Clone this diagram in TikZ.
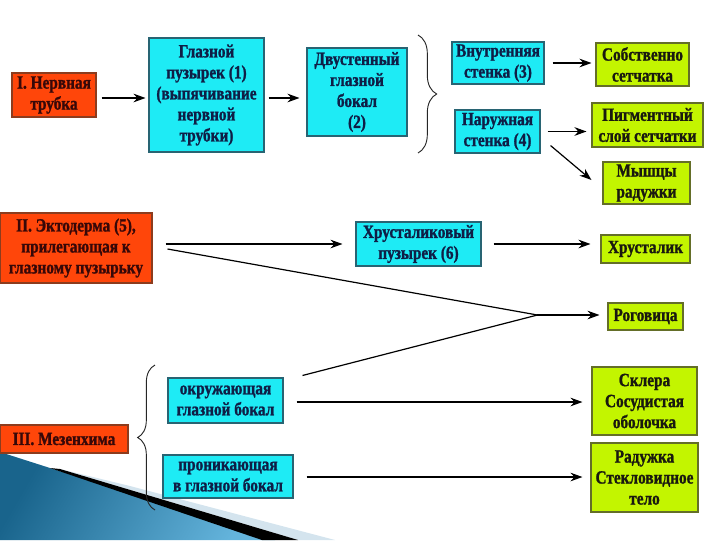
\documentclass[tikz,border=0pt]{standalone}
\usepackage{fontspec}
\setmainfont{Liberation Serif}[BoldFont={Liberation Serif Bold}, FakeStretch=0.82, BoldFeatures={FakeBold=1.2}]
\usetikzlibrary{arrows.meta,calc,decorations.pathreplacing}
\definecolor{cyanfill}{RGB}{30,235,245}
\definecolor{cyanline}{RGB}{40,100,115}
\definecolor{cyantext}{RGB}{15,30,70}
\definecolor{greenfill}{RGB}{195,245,0}
\definecolor{greenline}{RGB}{100,110,40}
\definecolor{greentext}{RGB}{25,25,15}
\definecolor{orangefill}{RGB}{255,70,10}
\definecolor{orangeline}{RGB}{140,60,30}
\definecolor{orangetext}{RGB}{55,8,8}
\definecolor{bluedark}{RGB}{25,100,140}
\definecolor{bluelight}{RGB}{100,180,220}
\definecolor{paleband}{RGB}{212,228,238}
\def\px{0.75pt}
\tikzset{
  box/.style={draw, line width=0.8pt, align=center, inner sep=1pt,
    font=\fontsize{14}{15.75}\selectfont\bfseries},
  cbox/.style={box, fill=cyanfill, draw=cyanline, text=cyantext},
  gbox/.style={box, fill=greenfill, draw=greenline, text=greentext},
  obox/.style={box, fill=orangefill, draw=orangeline, text=orangetext},
  sz/.style 2 args={minimum width={#1*\px}, minimum height={#2*\px}},
  arr/.style={line width=0.9pt, -{Stealth[length=9pt,width=6.5pt]}},
  ln/.style={line width=0.9pt},
  brc/.style={decorate, decoration={brace, amplitude=#1}, line width=0.7pt, draw=black!85}
}
\begin{document}
\begin{tikzpicture}[x=0.75pt,y=-0.75pt]
\useasboundingbox (0,0) rectangle (720,540);
% background decoration
\fill[paleband] (130,486) -- (335,540) -- (298,540) -- (60,469) -- cycle;
\shade[left color=bluedark, right color=bluelight, shading angle=60] (0,452) -- (275,540) -- (0,540) -- cycle;
\fill[black] (60,469) -- (298,540) -- (262,540) -- (50,468) -- cycle;
% nodes
\node[obox, sz={84}{44}] (n1) at (54,95) {I. Нервная\\трубка};
\node[cbox, sz={115}{114}] (eye1) at (206.5,95) {Глазной\\пузырек (1)\\(выпячивание\\нервной\\трубки)};
\node[cbox, sz={100}{88}] (cup) at (357,92) {Двустенный\\глазной\\бокал\\(2)};
\node[cbox, sz={92}{42}] (inner) at (498,63) {Внутренняя\\стенка (3)};
\node[cbox, sz={85}{43}] (outer) at (497.5,131.5) {Наружная\\стенка (4)};
\node[gbox, sz={93}{43}] (retina) at (642.5,64.5) {Собственно\\сетчатка};
\node[gbox, sz={111}{44}] (pigment) at (647.5,125) {Пигментный\\слой сетчатки};
\node[gbox, sz={87}{42}] (muscle) at (646.5,183) {Мышцы\\радужки};
\node[obox, sz={152}{70}] (ecto) at (76,248) {II. Эктодерма (5),\\прилегающая к\\глазному пузырьку};
\node[cbox, sz={125}{44}] (lensves) at (418.5,244) {Хрусталиковый\\пузырек (6)};
\node[gbox, sz={89}{28}] (lens) at (645.5,249) {Хрусталик};
\node[gbox, sz={75}{27}] (cornea) at (645.5,316.5) {Роговица};
\node[obox, sz={128}{28}] (mes) at (64,439) {III. Мезенхима};
\node[cbox, sz={115}{45}] (surr) at (225.5,400.5) {окружающая\\глазной бокал};
\node[cbox, sz={130}{43}] (pen) at (228,476.5) {проникающая\\в глазной бокал};
\node[gbox, sz={105}{68}] (sclera) at (644.5,401) {Склера\\Сосудистая\\оболочка};
\node[gbox, sz={107}{69}] (iris) at (644.5,477.5) {Радужка\\Стекловидное\\тело};
% braces
\draw[brc=14pt] (418,35) -- (418,153);
\draw[brc=13pt] (155,510) -- (155,365);
% connectors
\draw[arr] ($(n1.east)+(5,3)$) -- ($(n1.east -| eye1.west)+(-3,3)$);
\draw[arr] ($(eye1.east)+(4,3)$) -- ($(eye1.east -| cup.west)+(-7,3)$);
\draw[arr] ($(inner.east)+(8,0)$) -- ($(inner.east -| retina.west)+(-4,0)$);
\draw[arr] ($(outer.east)+(7,0)$) -- ($(outer.east -| pigment.west)+(-5,0)$);
\draw[arr] ($(outer.south east)+(10,-8)$) -- ($(muscle.west)+(-11,-3)$);
\draw[arr] ($(ecto.east |- lensves.west)+(13,0)$) -- ($(lensves.west)+(-13,0)$);
\draw[arr] ($(lensves.east)+(12,0)$) -- ($(lensves.east -| lens.west)+(-10,0)$);
\coordinate (J) at ($(cornea.west)+(-70,-1.5)$);
\draw[ln] ($(ecto.east)+(15,1)$) -- (J);
\draw[ln] ($(surr.north east)+(19,-2)$) -- (J);
\draw[arr] (J) -- ($(J -| cornea.west)+(-8,0)$);
\draw[arr] ($(surr.east)+(13,1.5)$) -- ($(surr.east -| sclera.west)+(-9,1.5)$);
\draw[arr] ($(pen.east)+(13,0.5)$) -- ($(pen.east -| iris.west)+(-8,0.5)$);
\end{tikzpicture}
\end{document}
